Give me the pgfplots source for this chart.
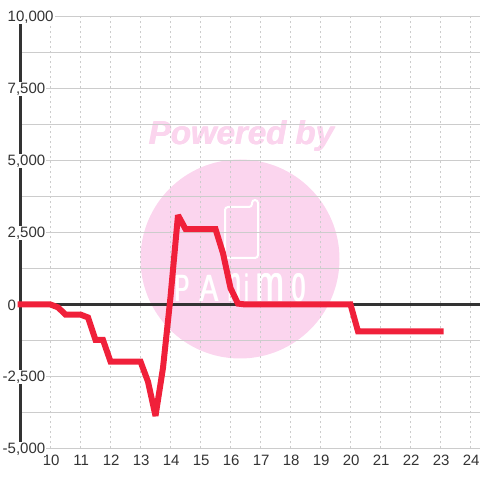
\documentclass[border=0pt]{standalone}
\usepackage{fontspec}
\setmainfont{Liberation Sans}
\usepackage{pgfplots}
\pgfplotsset{compat=1.18}
\definecolor{wm}{HTML}{FBD5EE}
\definecolor{gridc}{HTML}{CCCCCC}
\definecolor{dark}{HTML}{333333}
\definecolor{redl}{HTML}{F0203A}
\newcommand{\neglab}[1]{\makebox[0pt][r]{-}#1}
\pgfplotsset{base/.style={
  at={(20.5pt,31.5pt)},anchor=south west,
  scale only axis,width=459.5pt,height=432pt,
  xmin=9,xmax=24.3167,ymin=-5000,ymax=10000,
  clip=false,scaled y ticks=false,scaled x ticks=false,
}}
\begin{document}
\begin{tikzpicture}[x=1pt,y=1pt]
\path[use as bounding box] (0,0) rectangle (480,480);
% watermark
\fill[wm] (240,221) circle (99.5);
\foreach \dx in {-0.4,0,0.4}{
\node[text=wm,font=\fontsize{33}{36}\selectfont\bfseries\itshape,inner sep=0] at (241.5+\dx,344) {Powered by};
}
\draw[white,line width=2,rounded corners=3] (225,273) -- (225,222) -- (258,222) -- (258,280) -- (252,280) -- (252,273) -- cycle;
\foreach \dd in {-0.4,0.4}{
\foreach \l/\px/\xs/\ys in {P/182/1.1/1.9,A/209/1.4/1.9,n/235/1.2/2.6,i/247/1.1/1.9,m/270.5/1.7/2.6,o/299/1.25/2.6}{
  \node[text=white,font=\fontsize{20}{22}\selectfont,inner sep=0,xscale=\xs,yscale=\ys,anchor=base] at (\px+\dd,178) {\l};
}}
% grid and spine
\begin{axis}[base,
  axis line style={draw=none},
  xtick={10,...,24},
  ytick={-5000,-2500,0,2500,5000,7500,10000},
  xticklabels={},yticklabels={},
  minor ytick={-3750,-1250,1250,3750,6250,8750},
  tick style={draw=none},
  major tick length=0pt,minor tick length=0pt,
  grid=both,
  major y grid style={draw=gridc,line width=1pt},
  minor y grid style={draw=gridc,line width=1pt},
  major x grid style={draw=gridc,line width=0.8pt,dash pattern=on 2pt off 3pt},
]
\addplot[draw=dark,line width=3pt] coordinates {(9,-5000) (9,10000)};
\end{axis}
% tick labels
\begin{axis}[base,
  axis line style={draw=none},
  /pgf/number format/assume math mode=true,
  xtick={10,...,24},
  ytick={-5000,-2500,0,2500,5000,7500,10000},
  yticklabels={\neglab{5,000},\neglab{2,500},0,{2,500},{5,000},{7,500},{10,000}},
  tick style={draw=none},
  major tick length=0pt,
  y tick label style={anchor=west,xshift=-14pt,yshift=-0.5pt,fill=white,inner xsep=1pt,inner ysep=1pt,text=dark,font=\fontsize{15}{16}\selectfont},
  x tick label style={anchor=north,xshift=0.7pt,yshift=-5pt,inner sep=1pt,text=dark,font=\fontsize{15}{16}\selectfont},
]
\end{axis}
% data
\begin{axis}[base,hide axis]
\addplot[draw=dark,line width=3pt] coordinates {(9,0) (24.3167,0)};
\addplot[draw=redl,line width=6pt,line join=miter,miter limit=2,line cap=rect] coordinates {
(9,0) (10,0) (10.25,-100) (10.5,-350) (11,-350) (11.25,-450) (11.5,-1230) (11.75,-1230) (12,-1980) (13,-1980) (13.25,-2680) (13.5,-3870) (13.75,-2200) (14,260) (14.25,3100) (14.5,2620) (15.5,2620) (15.75,1780) (16,570) (16.25,30) (16.5,0) (20,0) (20.25,-930) (23,-930)};
\end{axis}
\end{tikzpicture}
\end{document}
